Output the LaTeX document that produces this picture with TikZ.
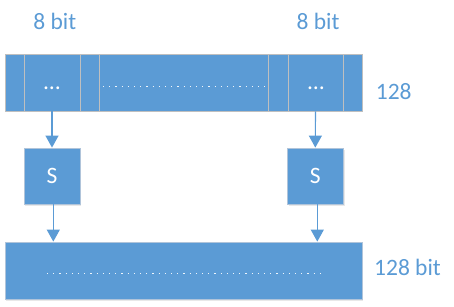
\documentclass[tikz,border=0pt]{standalone}
\usepackage{fontspec}
\setmainfont{Carlito}
\usetikzlibrary{arrows.meta,shadows}
\definecolor{blu}{HTML}{5B9BD5}
\definecolor{segedge}{HTML}{BFBFBF}
\definecolor{boxedge}{HTML}{B0C4DA}
\tikzset{
  bigfont/.style={font=\fontsize{23.5}{28}\selectfont},
  seg/.style={draw=segedge, line width=0.9pt, fill=blu, inner sep=0pt, minimum height=57pt,
    drop shadow={shadow xshift=1.2pt, shadow yshift=-1.5pt, opacity=0.18}},
  sbox/.style={draw=boxedge, line width=0.8pt, fill=blu, inner sep=0pt, minimum width=56pt, minimum height=56pt,
    text=white, bigfont,
    drop shadow={shadow xshift=1.2pt, shadow yshift=-1.5pt, opacity=0.18}},
  lab/.style={text=blu, bigfont, inner sep=0pt, anchor=base},
  dotstext/.style={text=white, bigfont, inner sep=0pt, anchor=base},
  conn/.style={draw=blu, line width=1.1pt, -{Triangle[width=13pt,length=12pt]}},
  dotline/.style={draw=white!90!blu, line width=0.8pt, dash pattern=on 1.2pt off 5pt}
}
\begin{document}
\begin{tikzpicture}[x=1pt,y=-1pt]
\useasboundingbox (0,0) rectangle (454,307);
% top register
\node[seg, minimum width=19pt]  (a1) at (14.5,82.5) {};
\node[seg, minimum width=56pt]  (a2) at (52,82.5) {};
\node[seg, minimum width=19pt]  (a3) at (89.5,82.5) {};
\node[seg, minimum width=169pt] (a4) at (183.5,82.5) {};
\node[seg, minimum width=20pt]  (a5) at (278,82.5) {};
\node[seg, minimum width=55pt]  (a6) at (315.5,82.5) {};
\node[seg, minimum width=19pt]  (a7) at (352.5,82.5) {};
\node[dotstext] (d1) at (52,90) {…};
\node[dotstext] (d2) at (316,90) {…};
\draw[dotline] (103,86) -- (265,86);
% S boxes
\node[sbox] (s1) at (52,176) {S};
\node[sbox] (s2) at (315.3,176) {S};
% bottom register
\node[sbox, minimum width=357pt, minimum height=57pt] (bot) at (183.5,270.5) {};
\draw[dotline] (47,273) -- (322,273);
% labels
\node[lab] (l1) at (54.8,30) {8 bit};
\node[lab] (l2) at (318,30) {8 bit};
\node[lab] (l3) at (393.7,100) {128};
\node[lab] (l4) at (407.5,275.7) {128 bit};
% connectors
\draw[conn] (a2.south) -- (s1.north);
\draw[conn] (a6.south) -- (s2.north);
\draw[conn] ([xshift=1.3pt]s1.south) -- ([xshift=1.3pt]s1.south |- bot.north);
\draw[conn] ([xshift=2pt]s2.south) -- ([xshift=2pt]s2.south |- bot.north);
\end{tikzpicture}
\end{document}
